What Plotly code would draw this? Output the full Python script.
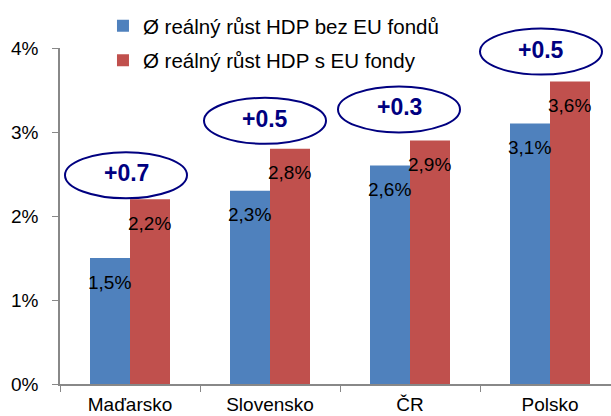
import plotly.graph_objects as go

categories = ["Maďarsko", "Slovensko", "ČR", "Polsko"]
growth_without_eu = [1.5, 2.3, 2.6, 3.1]
growth_with_eu = [2.2, 2.8, 2.9, 3.6]
series_names = ["Ø reálný růst HDP bez EU fondů", "Ø reálný růst HDP s EU fondy"]
y_ticks = [0, 1, 2, 3, 4]
y_tick_labels = ["0%", "1%", "2%", "3%", "4%"]

# layout for the difference bubbles (pixel offsets from the top of the red bar)
bubble_dy = [24, 28, 31, 30]
bubble_dx = [-4, -5, -11, -9]

BLUE = "#4F81BD"
RED = "#C0504D"
NAVY = "#000080"
FONT = "Arial, Liberation Sans, sans-serif"
Y_MAX = y_ticks[-1]

fig = go.Figure()
fig.add_trace(go.Bar(x=categories, y=growth_without_eu, name=series_names[0],
                     marker=dict(color=BLUE, line=dict(width=0)), legendgroup="a"))
fig.add_trace(go.Bar(x=categories, y=growth_with_eu, name=series_names[1],
                     marker=dict(color=RED, line=dict(width=0)), legendgroup="b"))

def fmt(v):
    return f"{v:.1f}".replace(".", ",") + "%"

annotations = []
shapes = []
for i, cat in enumerate(categories):
    b = growth_without_eu[i]
    r = growth_with_eu[i]
    annotations.append(dict(x=i, y=b, xref="x", yref="y", text=fmt(b), showarrow=False,
                            xshift=-21, yshift=-24, font=dict(family=FONT, size=19, color="#000")))
    annotations.append(dict(x=i, y=r, xref="x", yref="y", text=fmt(r), showarrow=False,
                            xshift=19, yshift=-24, font=dict(family=FONT, size=19, color="#000")))
    dy = bubble_dy[i]
    dx = bubble_dx[i]
    # y anchored to the red bar top, expressed on the (0..Y_MAX) paper scale so the ellipse is not clipped
    shapes.append(dict(type="circle", xref="x", yref="paper", xsizemode="pixel", ysizemode="pixel",
                       xanchor=i, yanchor=r / Y_MAX, x0=dx - 61, x1=dx + 61, y0=dy - 23, y1=dy + 23,
                       line=dict(color=NAVY, width=2), fillcolor="rgba(0,0,0,0)"))
    annotations.append(dict(x=i, y=r, xref="x", yref="y", text=f"<b>+{r - b:.1f}</b>", showarrow=False,
                            xshift=dx, yshift=dy + 2, font=dict(family=FONT, size=23, color=NAVY)))

fig.update_layout(
    width=611, height=416,
    margin=dict(l=60, r=0, t=48, b=32, autoexpand=False),
    paper_bgcolor="white", plot_bgcolor="white",
    barmode="group", bargap=0.4286, bargroupgap=0,
    font=dict(family=FONT, size=19, color="#000"),
    showlegend=True,
    legend=dict(x=0.078, xanchor="left", yref="container", y=0.986, yanchor="top",
                font=dict(family=FONT, size=20.5, color="#000"), tracegroupgap=5,
                bgcolor="rgba(0,0,0,0)", itemwidth=30),
    xaxis=dict(type="category", range=[-0.5, 3.4357], tickson="boundaries", ticks="outside",
               ticklen=6, tickcolor="#888", showline=True, linecolor="#888", linewidth=1.5,
               showgrid=False, zeroline=False, tickfont=dict(family=FONT, size=19, color="#000"),
               ticklabelstandoff=2, fixedrange=True),
    yaxis=dict(range=[0, Y_MAX], tickvals=y_ticks, ticktext=y_tick_labels, ticks="outside", ticklen=6,
               tickcolor="#888", showline=True, linecolor="#888", linewidth=1.5, showgrid=False,
               zeroline=False, tickfont=dict(family=FONT, size=19, color="#000"),
               ticklabelstandoff=10, fixedrange=True),
    annotations=annotations,
    shapes=shapes,
)

fig.write_html("out.html", config={"displayModeBar": False},
               post_script="document.body.style.margin='0';document.body.style.overflow='hidden';")
